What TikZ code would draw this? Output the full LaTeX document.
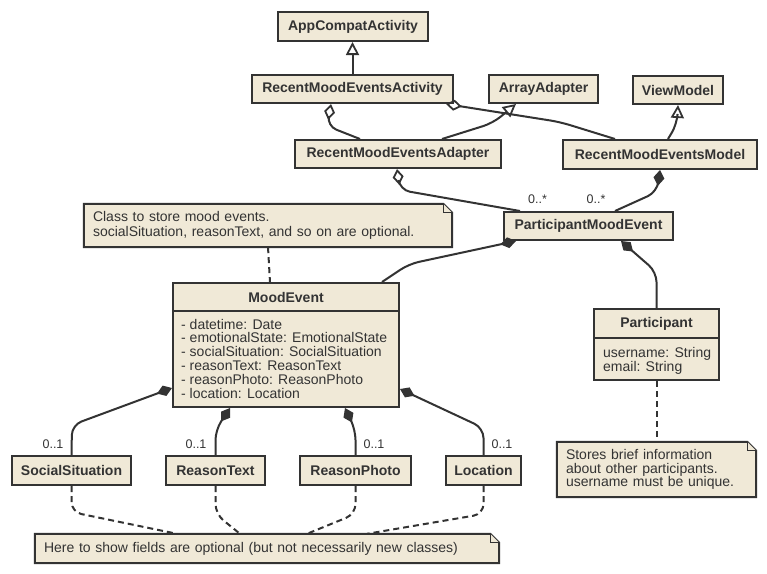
\documentclass[tikz,border=0pt]{standalone}
\usepackage{fontspec}
\setmainfont{Liberation Sans}
\usetikzlibrary{arrows.meta,calc}
\definecolor{umlfill}{RGB}{240,233,215}
\definecolor{umlline}{RGB}{51,51,51}
\pgfdeclarelayer{background}
\pgfsetlayers{background,main}
\tikzset{
  cls/.style={draw=umlline, fill=umlfill, line width=2pt, inner sep=0pt, text=umlline, font=\fontsize{14}{16}\selectfont\bfseries},
  clsbox/.style={draw=umlline, fill=umlfill, line width=2pt, inner sep=0pt},
  clsname/.style={inner sep=0pt, text=umlline, font=\fontsize{14}{16}\selectfont\bfseries},
  attr/.style={anchor=base west, inner sep=0pt, text=umlline, font=\fontsize{14}{14}\selectfont},
  notebody/.style={inner xsep=9pt, inner ysep=0pt, align=left, text=umlline},
  notedraw/.style={draw=umlline, fill=umlfill, line width=2pt, line join=miter},
  conn/.style={draw=umlline, line width=2pt, rounded corners=10pt},
  gen/.style={conn, -{Triangle[open, length=13pt, width=13pt, line width=1.8pt]}},
  agg/.style={conn, -{Diamond[open, length=16pt, width=11pt, line width=1.8pt]}},
  comp/.style={conn, -{Diamond[length=16pt, width=11pt, line width=1.8pt]}},
  notelink/.style={conn, dash pattern=on 6pt off 4pt},
  mult/.style={inner sep=0pt, text=umlline, font=\fontsize{12.5}{13}\selectfont},
}
\newcommand\umlnote[1]{%
  \begin{pgfonlayer}{background}
    \filldraw[notedraw] (#1.north west) -- ($(#1.north east)+(-9,0)$) -- ($(#1.north east)+(0,9)$) -- (#1.south east) -- (#1.south west) -- cycle;
    \filldraw[notedraw, line width=1.2pt] ($(#1.north east)+(-9,0)$) -- ($(#1.north east)+(-9,9)$) -- ($(#1.north east)+(0,9)$);
  \end{pgfonlayer}}
\begin{document}
\begin{tikzpicture}[x=1pt,y=-1pt]
\useasboundingbox (0,0) rectangle (767,573);

% simple classes
\node[cls, minimum width=150, minimum height=29] (aca) at (353,26.5) {AppCompatActivity};
\node[cls, minimum width=201, minimum height=28] (rmea) at (352.5,89) {RecentMoodEventsActivity};
\node[cls, minimum width=109, minimum height=28] (arr) at (543.5,89) {ArrayAdapter};
\node[cls, minimum width=90, minimum height=28] (vm) at (678,90) {ViewModel};
\node[cls, minimum width=206, minimum height=28] (rmead) at (398,154) {RecentMoodEventsAdapter};
\node[cls, minimum width=194, minimum height=29] (rmem) at (660,154.5) {RecentMoodEventsModel};
\node[cls, minimum width=169, minimum height=28] (pme) at (588.5,226) {ParticipantMoodEvent};
\node[cls, minimum width=119, minimum height=29] (ss) at (71.5,470.5) {SocialSituation};
\node[cls, minimum width=99, minimum height=29] (rt) at (215.5,470.5) {ReasonText};
\node[cls, minimum width=111, minimum height=29] (rp) at (355.5,470.5) {ReasonPhoto};
\node[cls, minimum width=75, minimum height=29] (loc) at (483.5,470.5) {Location};

% MoodEvent
\node[clsbox, minimum width=226, minimum height=124] (me) at (286,345) {};
\node[clsname] (meT) at (286,297) {MoodEvent};
\draw[umlline, line width=2pt] (me.west |- 0,311) -- (me.east |- 0,311);
\foreach [count=\i] \t in {- datetime: Date, - emotionalState: EmotionalState, - socialSituation: SocialSituation, - reasonText: ReasonText, - reasonPhoto: ReasonPhoto, - location: Location}
  \node[attr] (meA\i) at (181,{329+13.8*(\i-1)}) {\t};

% Participant
\node[clsbox, minimum width=125, minimum height=71] (part) at (656.5,344.5) {};
\node[clsname] (partT) at (656.5,323.5) {Participant};
\draw[umlline, line width=2pt] (part.west |- 0,338) -- (part.east |- 0,338);
\node[attr] (partA1) at (603,357) {username: String};
\node[attr] (partA2) at (603,371) {email: String};

% notes
\node[notebody, text width=350, minimum height=43, font=\fontsize{14}{15}\selectfont] (n1) at (268,225.5) {Class to store mood events.\\socialSituation, reasonText, and so on are optional.};
\umlnote{n1}
\node[notebody, text width=181, minimum height=55, font=\fontsize{14}{13.5}\selectfont] (n2) at (656.5,469.5) {Stores brief information\\about other participants.\\username must be unique.};
\umlnote{n2}
\node[notebody, text width=446, minimum height=29, font=\fontsize{14}{15}\selectfont] (n3) at (267,548.5) {Here to show fields are optional (but not necessarily new classes)};
\umlnote{n3}

% generalizations
\draw[gen] (rmea.north) -- (rmea.north |- aca.south);
\draw[gen] (rmead.north -| 442,0) -- (493,123) -- (arr.south -| 516,0);
\draw[gen] (rmem.north -| 668,0) -- (677,124) -- (vm.south -| 678,0);

% aggregations
\draw[agg] (rmead.north -| 360,0) -- (327,126) -- (rmea.south -| 331,0);
\draw[agg] (rmem.north -| 615,0) -- (560,122) -- (rmea.south -| 446,0);
\draw[agg] (pme.north -| 520,0) -- (400,190) -- (rmead.south -| 397,0);

% compositions
\draw[comp] (pme.north -| 615,0) -- (657,192) -- (rmem.south -| 660,0);
\draw[comp] (me.north -| 382,0) -- (409,264) -- (pme.south -| 516,0);
\draw[comp] (part.north) -- (656.5,272) -- (pme.south -| 621,0);
\draw[comp] (ss.north) -- (72,425) -- (me.west |- 0,388);
\draw[comp] (rt.north) -- (215.5,430) -- (me.south -| 230,0);
\draw[comp] (rp.north) -- (355.5,430) -- (me.south -| 345,0);
\draw[comp] (loc.north) -- (483.5,428) -- (me.east |- 0,389);

% multiplicities
\node[mult] (m1) at (537.5,199) {0..*};
\node[mult] (m2) at (596,199) {0..*};
\node[mult] (m3) at (53,444) {0..1};
\node[mult] (m4) at (196,444) {0..1};
\node[mult] (m5) at (374,444) {0..1};
\node[mult] (m6) at (502,444) {0..1};

% note links
\draw[notelink] (n1.south -| 268,0) -- (me.north -| 270,0);
\draw[notelink] (part.south) -- (n2.north -| part.south);
\draw[notelink] (ss.south) -- (71.5,512) -- (n3.north -| 177,0);
\draw[notelink] (rt.south) -- (215.5,514) -- (n3.north -| 240,0);
\draw[notelink] (rp.south) -- (355.5,514) -- (n3.north -| 307,0);
\draw[notelink] (loc.south) -- (483.5,514) -- (n3.north -| 367,0);
\end{tikzpicture}
\end{document}
